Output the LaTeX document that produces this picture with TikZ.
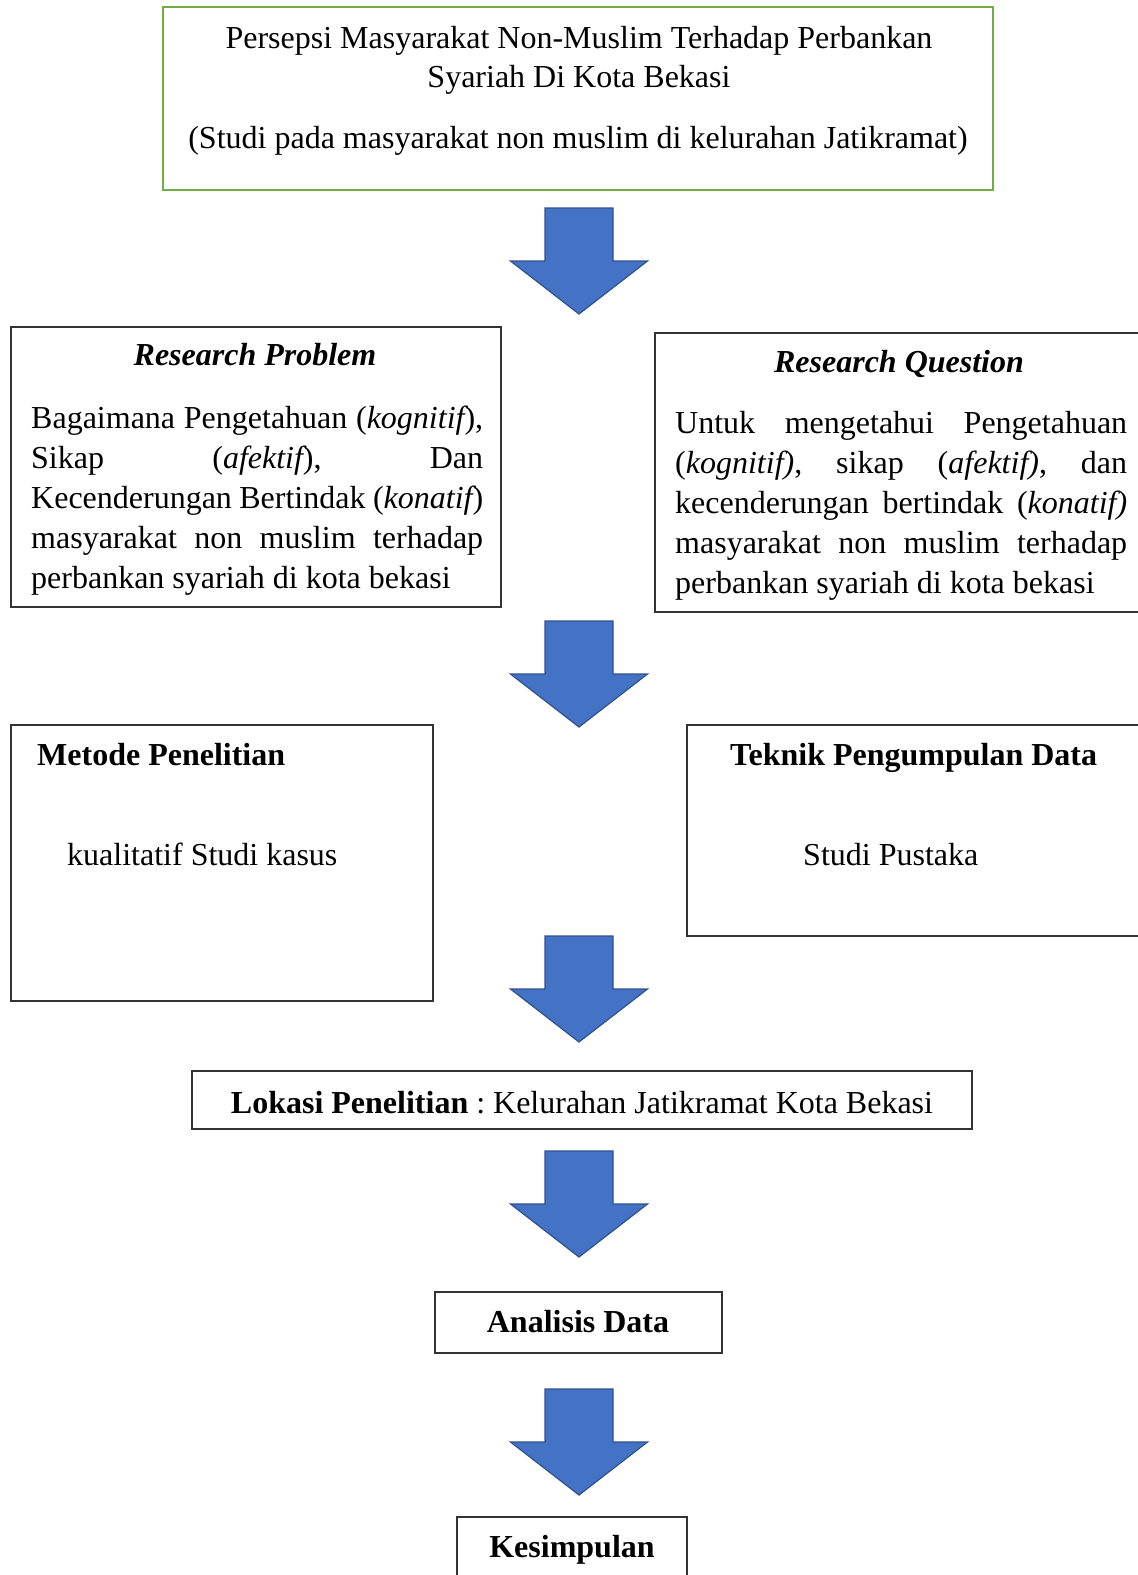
\documentclass[tikz,border=0pt]{standalone}
\usepackage{fontspec}
\setmainfont{Liberation Serif}
\usetikzlibrary{positioning}
\definecolor{arrowblue}{HTML}{4472C4}
\definecolor{arrowedge}{HTML}{2F528F}
\definecolor{framegreen}{HTML}{70AD47}
\hyphenpenalty=10000
\exhyphenpenalty=10000
\frenchspacing

\begin{document}
\begin{tikzpicture}[x=1pt,y=-1pt,line join=miter,
                    font=\fontsize{32}{40}\selectfont]
  \tikzstyle{box}=[draw=black!80,line width=1.5pt,inner sep=0pt]
  \tikzstyle{txt}=[inner sep=0pt,anchor=base]
  \tikzstyle{para}=[inner sep=0pt,anchor=base west,text width=452pt,align=justify]
  \tikzset{downarrow/.pic={
      \draw[fill=arrowblue,draw=arrowedge,line width=1.2pt]
        (-34,0) -- (34,0) -- (34,53) -- (68.5,53) -- (0,106)
        -- (-68.5,53) -- (-34,53) -- cycle;}}

  \useasboundingbox (0,0) rectangle (1138,1575);

  % boxes
  \node[box,draw=framegreen,line width=2.5pt,
        minimum width=830pt,minimum height=183pt] (judul) at (578,98.5) {};
  \node[box,minimum width=490pt,minimum height=280pt] (rp)  at (256,467)    {};
  \node[box,minimum width=495pt,minimum height=279pt] (rq)  at (902.5,472.5) {};
  \node[box,minimum width=422pt,minimum height=276pt] (mp)  at (222,863)    {};
  \node[box,minimum width=463pt,minimum height=211pt] (tpd) at (918.5,830.5) {};
  \node[box,minimum width=780pt,minimum height=58pt]  (lok) at (582,1100)   {};
  \node[box,minimum width=287pt,minimum height=61pt]  (ad)  at (578.5,1322.5) {};
  \node[box,minimum width=230pt,minimum height=73pt]  (kes) at (572,1553.5) {};

  % texts
  \node[txt] (j1) at (579,48)  {Persepsi Masyarakat Non-Muslim Terhadap Perbankan};
  \node[txt] (j2) at (579,87)  {Syariah Di Kota Bekasi};
  \node[txt] (j3) at (578,148) {(Studi pada masyarakat non muslim di kelurahan Jatikramat)};

  \node[txt,font=\fontsize{32}{40}\selectfont\bfseries\itshape] (rpt) at (255,365) {Research Problem};
  \node[para] (rpb) at (31,428) {Bagaimana Pengetahuan ({\itshape kognitif}),\linebreak
    Sikap ({\itshape afektif}), Dan\linebreak
    Kecenderungan Bertindak ({\itshape konatif})\linebreak
    masyarakat non muslim terhadap\linebreak
    perbankan syariah di kota bekasi};

  \node[txt,font=\fontsize{32}{40}\selectfont\bfseries\itshape] (rqt) at (899,372) {Research Question};
  \node[para] (rqb) at (675,433) {Untuk mengetahui Pengetahuan\linebreak
    ({\itshape kognitif)}, sikap ({\itshape afektif)}, dan\linebreak
    kecenderungan bertindak ({\itshape konatif)}\linebreak
    masyarakat non muslim terhadap\linebreak
    perbankan syariah di kota bekasi};

  \node[txt,anchor=base west,font=\fontsize{32}{40}\selectfont\bfseries] (mpt) at (37,765) {Metode Penelitian};
  \node[txt,anchor=base west] (mpb) at (67,865) {kualitatif Studi kasus};

  \node[txt,anchor=base west,font=\fontsize{32}{40}\selectfont\bfseries] (tpdt) at (730,765) {Teknik Pengumpulan Data};
  \node[txt,anchor=base west] (tpdb) at (803,865) {Studi Pustaka};

  \node[txt] (lokt) at (582,1113) {\textbf{Lokasi Penelitian} : Kelurahan Jatikramat Kota Bekasi};
  \node[txt,font=\fontsize{32}{40}\selectfont\bfseries] (adt) at (578,1332) {Analisis Data};
  \node[txt,font=\fontsize{32}{40}\selectfont\bfseries] (kest) at (572,1557) {Kesimpulan};

  % arrows
  \pic at (579,208)  {downarrow};
  \pic at (579,621)  {downarrow};
  \pic at (579,936)  {downarrow};
  \pic at (579,1151) {downarrow};
  \pic at (579,1389) {downarrow};
\end{tikzpicture}
\end{document}
